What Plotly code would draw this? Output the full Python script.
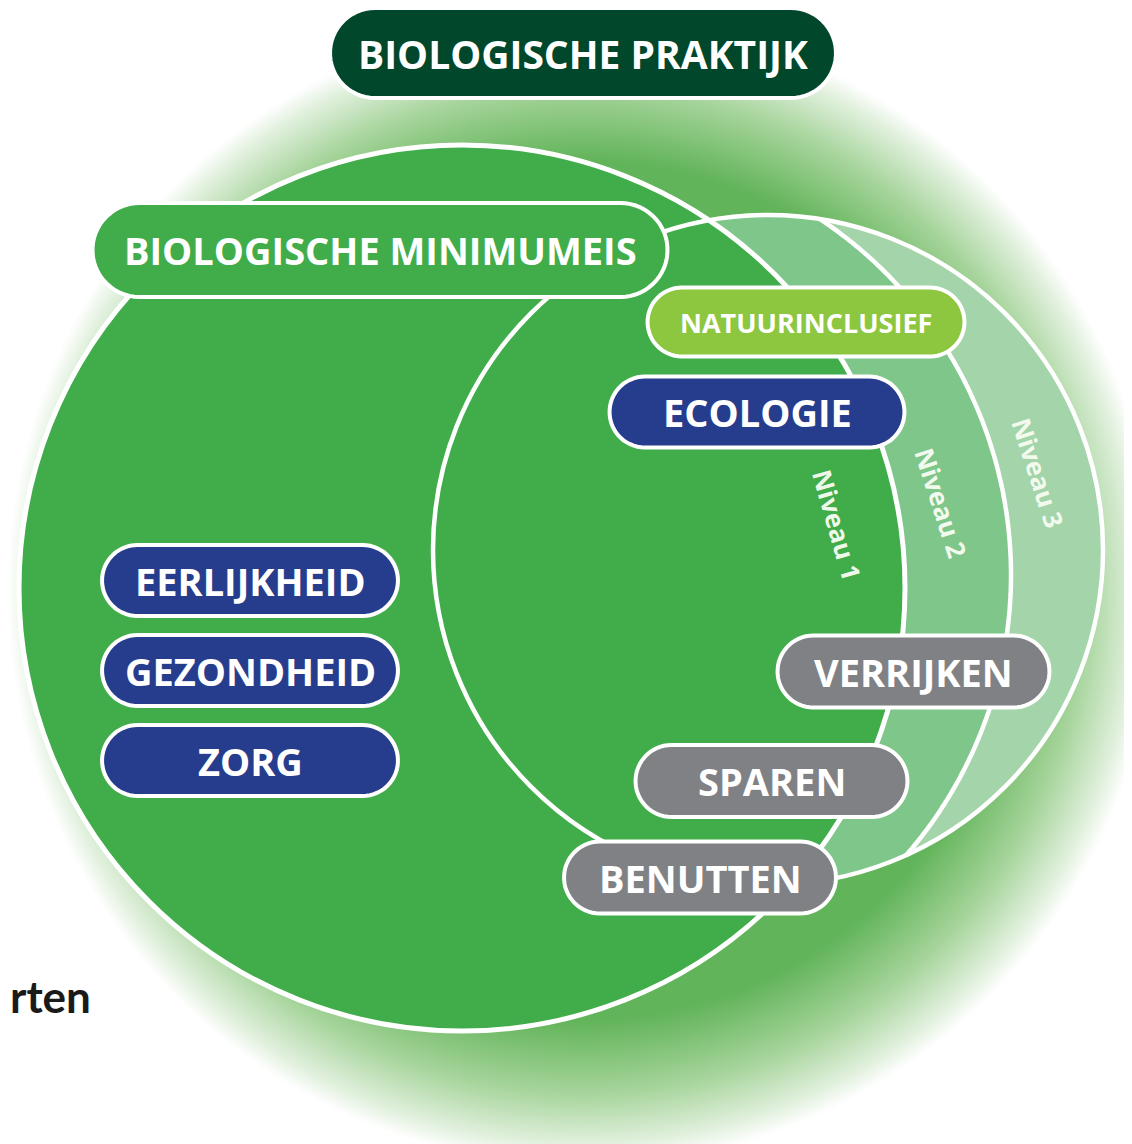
import numpy as np
import plotly.graph_objects as go

# ---------------- content (text of the diagram) ----------------
title_label = "BIOLOGISCHE PRAKTIJK"
base_label = "BIOLOGISCHE MINIMUMEIS"
nature_label = "NATUURINCLUSIEF"
ecology_label = "ECOLOGIE"
principle_labels = ["EERLIJKHEID", "GEZONDHEID", "ZORG"]
strategy_labels = ["VERRIJKEN", "SPAREN", "BENUTTEN"]
level_labels = ["Niveau 1", "Niveau 2", "Niveau 3"]
side_text = "rten"

# ---------------- geometry / style (pixel space of the page) ----------------
W, H = 1132, 1144
OFF = 8  # default body margin of the html page
C1 = (462.0, 588.0, 443.0)   # big circle (minimumeis)
C3 = (768.0, 550.0, 335.0)   # inner circle / outer boundary of niveau 3
C2 = (584.0, 575.0, 427.0)   # boundary niveau 2 / niveau 3
GLOW = (582.0, 590.0, 430.0, 575.0)

DARK_GREEN = "#40ad4a"
MID_GREEN = "#7fc68b"
LIGHT_GREEN = "#a4d4a9"
BLUE = "#253d8c"
GRAY = "#808185"
TOP_GREEN = "#00472b"
LIME = "#8dc63f"
FONT = "Open Sans"

pills = [
    dict(text=title_label, cx=583, cy=53, w=506, h=90, color=TOP_GREEN, size=39),
    dict(text=base_label, cx=380, cy=250, w=575, h=94, color=DARK_GREEN, size=38),
    dict(text=nature_label, cx=806, cy=322, w=317, h=69, color=LIME, size=27),
    dict(text=ecology_label, cx=757, cy=412, w=295, h=71, color=BLUE, size=38),
]
for lab, cy in zip(principle_labels, [580.5, 670.5, 760.5]):
    pills.append(dict(text=lab, cx=250, cy=cy, w=296, h=71, color=BLUE, size=38))
for lab, (cx, cy) in zip(strategy_labels, [(913.5, 671.5), (771.5, 781), (700, 877.5)]):
    pills.append(dict(text=lab, cx=cx, cy=cy, w=272, h=72, color=GRAY, size=38))

level_pos = [(837, 525, 74), (941, 503, 72), (1038, 473, 72)]


def circle_intersections(a, b):
    (x0, y0, r0), (x1, y1, r1) = a, b
    d = np.hypot(x1 - x0, y1 - y0)
    l = (r0 ** 2 - r1 ** 2 + d ** 2) / (2 * d)
    h = np.sqrt(max(r0 ** 2 - l ** 2, 0))
    xm = x0 + l * (x1 - x0) / d
    ym = y0 + l * (y1 - y0) / d
    p = (xm + h * (y1 - y0) / d, ym - h * (x1 - x0) / d)
    q = (xm - h * (y1 - y0) / d, ym + h * (x1 - x0) / d)
    return p, q


def arc_inside(c, p, q, other, n=240):
    cx, cy, r = c
    t0 = np.arctan2(p[1] - cy, p[0] - cx)
    t1 = np.arctan2(q[1] - cy, q[0] - cx)
    d = (t1 - t0) % (2 * np.pi)
    opt1 = t0 + np.linspace(0, d, n)
    opt2 = t0 - np.linspace(0, 2 * np.pi - d, n)
    for ts in (opt1, opt2):
        tm = ts[len(ts) // 2]
        mx, my = cx + r * np.cos(tm), cy + r * np.sin(tm)
        if np.hypot(mx - other[0], my - other[1]) < other[2]:
            return cx + r * np.cos(ts), cy + r * np.sin(ts)
    return cx + r * np.cos(opt1), cy + r * np.sin(opt1)


def to_path(xs, ys, close=True):
    s = "M " + " L ".join(f"{x:.1f},{y:.1f}" for x, y in zip(xs, ys))
    return s + (" Z" if close else "")


def pill_path(cx, cy, w, h, n=30):
    r = h / 2
    xl, xr = cx - w / 2 + r, cx + w / 2 - r
    t = np.linspace(-np.pi / 2, np.pi / 2, n)
    xs = list(xr + r * np.cos(t)) + list(xl - r * np.cos(t))
    ys = list(cy + r * np.sin(t)) + list(cy - r * np.sin(t))
    return to_path(xs, ys)


def circ(c, **kw):
    cx, cy, r = c
    return dict(type="circle", xref="x", yref="y", x0=cx - r, x1=cx + r,
                y0=cy - r, y1=cy + r, **kw)


fig = go.Figure()

# soft radial glow behind the diagram
gx = np.arange(0, W + 2 * OFF + 1, 4.0)
gy = np.arange(0, H + 2 * OFF + 1, 4.0)
XX, YY = np.meshgrid(gx, gy)
rr = np.hypot(XX - GLOW[0], YY - GLOW[1])
zz = np.clip((rr - GLOW[2]) / (GLOW[3] - GLOW[2]), 0, 1)
fig.add_trace(go.Heatmap(
    x=gx, y=gy, z=zz, zmin=0, zmax=1, zsmooth="best", showscale=False,
    hoverinfo="skip",
    colorscale=[[0, "rgb(98,180,90)"], [0.5, "rgb(166,212,155)"],
                [0.85, "rgb(225,240,221)"], [1, "rgb(255,255,255)"]],
))

shapes = []
# niveau 3 band (whole inner circle first)
shapes.append(circ(C3, fillcolor=LIGHT_GREEN, line=dict(width=0)))
# niveau 2 band: C2 ∩ C3
p, q = circle_intersections(C2, C3)
ax, ay = arc_inside(C2, p, q, C3)
bx, by = arc_inside(C3, q, p, C2)
shapes.append(dict(type="path", xref="x", yref="y",
                   path=to_path(np.r_[ax, bx], np.r_[ay, by]),
                   fillcolor=MID_GREEN, line=dict(width=0)))
# white boundary between niveau 2 and 3
shapes.append(dict(type="path", xref="x", yref="y", path=to_path(ax, ay, close=False),
                   line=dict(color="white", width=4.5)))
# big circle
shapes.append(circ(C1, fillcolor=DARK_GREEN, line=dict(color="white", width=5)))
# inner circle outline
shapes.append(circ(C3, fillcolor="rgba(0,0,0,0)", line=dict(color="white", width=4.5)))

annotations = []
for pl in pills:
    shapes.append(dict(type="path", xref="x", yref="y",
                       path=pill_path(pl["cx"], pl["cy"], pl["w"], pl["h"]),
                       fillcolor=pl["color"], line=dict(color="white", width=4)))
    annotations.append(dict(x=pl["cx"], y=pl["cy"], xref="x", yref="y", text=pl["text"],
                            showarrow=False, xanchor="center", yanchor="middle",
                            font=dict(family=FONT, size=pl["size"], color="white",
                                      weight=700)))

for lab, (x, y, ang) in zip(level_labels, level_pos):
    annotations.append(dict(x=x, y=y, xref="x", yref="y", text=lab, showarrow=False,
                            textangle=ang, xanchor="center", yanchor="middle",
                            font=dict(family=FONT, size=26, color="rgba(245,252,240,0.97)",
                                      weight=700)))

annotations.append(dict(x=OFF, y=996, xref="x", yref="y", text=side_text, showarrow=False,
                        xanchor="left", yanchor="middle",
                        font=dict(family="Lato", size=44, color="#1a1a1a", weight=700)))

fig.update_layout(
    width=W, height=H, margin=dict(l=0, r=0, t=0, b=0),
    paper_bgcolor="white", plot_bgcolor="white",
    xaxis=dict(range=[OFF, W + OFF], visible=False, fixedrange=True),
    yaxis=dict(range=[H + OFF, OFF], visible=False, fixedrange=True),
    shapes=shapes, annotations=annotations, showlegend=False,
)

fig.write_html("out.html")
